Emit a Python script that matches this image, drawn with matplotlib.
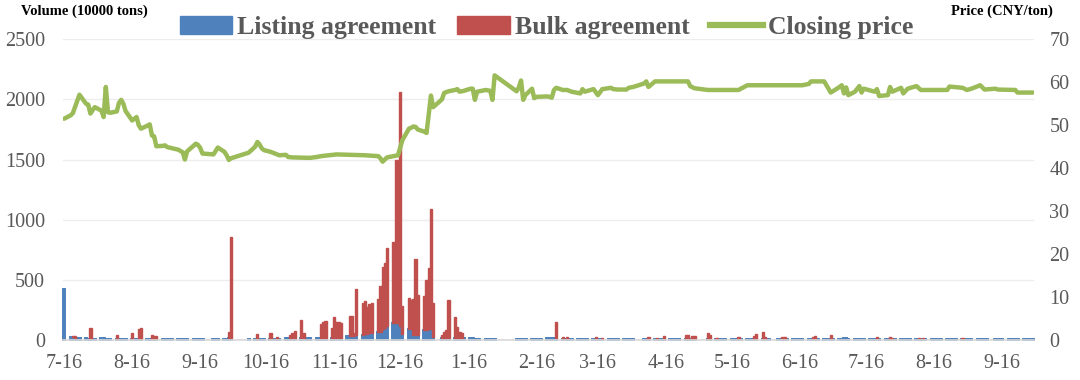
import matplotlib.pyplot as plt
import matplotlib.dates as mdates
from matplotlib.patches import Patch
from matplotlib.lines import Line2D
import numpy as np
import pandas as pd

plt.rcParams['font.family'] = ['Liberation Serif', 'DejaVu Serif']

BLUE = '#4F81BD'
RED = '#C0504D'
GREEN = '#9BBB59'
GREY = '#595959'

# market closed on these weekdays
holidays = ['2021-09-20', '2021-09-21', '2021-10-01', '2021-10-04', '2021-10-05',
            '2021-10-06', '2021-10-07', '2022-01-03', '2022-01-31', '2022-02-01',
            '2022-02-02', '2022-02-03', '2022-02-04', '2022-04-04', '2022-04-05',
            '2022-05-02', '2022-05-03', '2022-05-04', '2022-06-03', '2022-09-12']

# daily volume (10000 tons), one row per month of trading days
listing_by_month = [
    [420, 22, 22, 20, 18, 16, 14, 12, 12, 10, 10],
    [14, 14, 12, 12, 12, 10, 10, 12, 12, 10, 12, 10, 10, 10, 10, 12, 12, 10, 10, 10, 10, 10],
    [12, 12, 12, 12, 12, 12, 12, 12, 12, 12, 12, 12, 12, 12, 12, 12, 12, 12, 14, 15],
    [12, 12, 12, 12, 12, 12, 12, 12, 12, 12, 12, 15, 15, 15, 15, 15],
    [15, 15, 15, 15, 15, 15, 15, 18, 18, 18, 20, 20, 20, 20, 20, 30, 30, 30, 35, 40, 45, 50],
    [50, 56, 56, 65, 70, 95, 97, 120, 145, 145, 145, 120, 50, 90, 90, 42, 42, 42, 83, 83, 90, 90, 28],
    [15, 20, 20, 20, 20, 20, 15, 15, 20, 15, 15, 12, 12, 12, 12, 12, 12, 12, 12],
    [12, 12, 12, 12, 12, 12, 12, 12, 12, 12, 14, 14, 16, 16, 15, 12],
    [12, 12, 12, 12, 12, 12, 12, 12, 12, 12, 12, 12, 12, 12, 12, 12, 12, 12, 12, 12, 12, 12, 12],
    [12, 12, 12, 12, 12, 12, 12, 12, 12, 12, 12, 12, 12, 12, 12, 12, 12, 12, 12],
    [12, 12, 12, 12, 12, 12, 12, 12, 12, 12, 12, 12, 12, 12, 12, 12, 12, 12, 12],
    [12, 12, 12, 12, 12, 12, 12, 12, 12, 12, 12, 12, 12, 12, 12, 12, 12, 12, 12, 12, 12],
    [12, 12, 12, 16, 16, 12, 12, 12, 12, 12, 12, 12, 12, 12, 12, 12, 12, 12, 12, 12, 12],
    [12, 12, 12, 12, 12, 12, 12, 12, 12, 12, 12, 12, 12, 12, 12, 12, 12, 12, 12, 12, 12, 12, 12],
    [12, 12, 12, 12, 12, 12, 12, 12, 12, 12, 12, 12, 12, 12, 12, 12, 12, 12, 12, 12, 12],
]
bulk_by_month = [
    [0, 0, 8, 12, 0, 0, 0, 0, 85, 0, 0],
    [0, 0, 0, 0, 0, 32, 0, 0, 0, 0, 50, 0, 0, 85, 87, 0, 0, 30, 25, 25, 0, 0],
    [0, 0, 0, 0, 0, 0, 0, 0, 0, 0, 0, 0, 0, 0, 0, 0, 0, 0, 55, 845],
    [0, 0, 38, 0, 0, 0, 48, 0, 0, 16, 0, 0, 0, 27, 40, 60],
    [150, 40, 0, 0, 0, 0, 0, 112, 132, 140, 77, 169, 130, 127, 124, 0, 170, 170, 25, 385, 266, 270],
    [222, 244, 250, 275, 380, 515, 543, 645, 670, 1355, 1355, 1940, 230, 257, 243, 298, 630, 333,
     284, 417, 510, 995, 278],
    [27, 50, 63, 313, 170, 91, 55, 46, 0, 0, 0, 0, 0, 0, 0, 0, 0, 0, 0],
    [0, 0, 0, 0, 0, 0, 0, 0, 0, 0, 0, 0, 0, 0, 132, 10],
    [0, 14, 0, 0, 0, 0, 0, 0, 0, 0, 10, 0, 0, 8, 0, 0, 0, 0, 0, 0, 0, 0, 0],
    [0, 0, 0, 10, 0, 6, 0, 0, 24, 0, 0, 0, 0, 0, 30, 30, 0, 24, 24],
    [50, 28, 5, 0, 0, 0, 0, 0, 0, 0, 15, 0, 0, 0, 0, 20, 37, 51, 10],
    [0, 0, 0, 0, 10, 10, 0, 0, 0, 0, 0, 0, 0, 0, 15, 21, 0, 0, 0, 0, 29],
    [0, 0, 0, 0, 0, 0, 0, 0, 0, 0, 0, 0, 0, 0, 10, 0, 0, 0, 15, 8, 0],
    [0, 0, 0, 0, 0, 0, 5, 0, 5, 0, 0, 0, 0, 0, 0, 0, 0, 0, 0, 0, 7, 0, 0],
    [0, 0, 0, 0, 0, 0, 0, 0, 0, 0, 0, 0, 0, 0, 0, 0, 0, 0, 0, 0, 0],
]

# closing price (CNY/ton)
price_dates = [
    '2021-07-16', '2021-07-19', '2021-07-20', '2021-07-23', '2021-07-26', '2021-07-27',
    '2021-07-28', '2021-07-29', '2021-07-30', '2021-08-02', '2021-08-03', '2021-08-04',
    '2021-08-05', '2021-08-06', '2021-08-09', '2021-08-10', '2021-08-11', '2021-08-12',
    '2021-08-13', '2021-08-16', '2021-08-17', '2021-08-18', '2021-08-19', '2021-08-20',
    '2021-08-23', '2021-08-24', '2021-08-25', '2021-08-26', '2021-08-27', '2021-08-30',
    '2021-08-31', '2021-09-01', '2021-09-06', '2021-09-08', '2021-09-09', '2021-09-10',
    '2021-09-14', '2021-09-15', '2021-09-16', '2021-09-17', '2021-09-22', '2021-09-23',
    '2021-09-24', '2021-09-27', '2021-09-28', '2021-09-29', '2021-09-30', '2021-10-08',
    '2021-10-11', '2021-10-12', '2021-10-13', '2021-10-14', '2021-10-15', '2021-10-18',
    '2021-10-22', '2021-10-25', '2021-10-26', '2021-10-28', '2021-11-05', '2021-11-08',
    '2021-11-10', '2021-11-17', '2021-11-30', '2021-12-06', '2021-12-07', '2021-12-08',
    '2021-12-09', '2021-12-10', '2021-12-15', '2021-12-16', '2021-12-17', '2021-12-20',
    '2021-12-21', '2021-12-22', '2021-12-23', '2021-12-24', '2021-12-27', '2021-12-28',
    '2021-12-29', '2021-12-30', '2021-12-31', '2022-01-04', '2022-01-05', '2022-01-07',
    '2022-01-10', '2022-01-11', '2022-01-12', '2022-01-14', '2022-01-17', '2022-01-18',
    '2022-01-19', '2022-01-20', '2022-01-24', '2022-01-26', '2022-01-27', '2022-01-28',
    '2022-02-07', '2022-02-08', '2022-02-09', '2022-02-10', '2022-02-11', '2022-02-14',
    '2022-02-15', '2022-02-16', '2022-02-21', '2022-02-22', '2022-02-23', '2022-02-24',
    '2022-02-25', '2022-02-28', '2022-03-02', '2022-03-04', '2022-03-08', '2022-03-09',
    '2022-03-10', '2022-03-14', '2022-03-16', '2022-03-18', '2022-03-22', '2022-03-23',
    '2022-03-25', '2022-03-29', '2022-03-30', '2022-04-01', '2022-04-06', '2022-04-07',
    '2022-04-08', '2022-04-11', '2022-04-26', '2022-04-27', '2022-04-29', '2022-05-05',
    '2022-05-19', '2022-05-23', '2022-06-17', '2022-06-20', '2022-06-21', '2022-06-27',
    '2022-06-30', '2022-07-04', '2022-07-05', '2022-07-06', '2022-07-07', '2022-07-08',
    '2022-07-11', '2022-07-13', '2022-07-14', '2022-07-15', '2022-07-20', '2022-07-21',
    '2022-07-22', '2022-07-26', '2022-07-27', '2022-07-28', '2022-08-01', '2022-08-02',
    '2022-08-04', '2022-08-08', '2022-08-10', '2022-08-22', '2022-08-23', '2022-08-29',
    '2022-08-31', '2022-09-02', '2022-09-06', '2022-09-08', '2022-09-13', '2022-09-14',
    '2022-09-22', '2022-09-23', '2022-09-30']
price_values = [
    51.5, 52.3, 52.8, 57.1, 55.0, 54.8,
    52.7, 53.5, 54.2, 53.4, 51.9, 58.9,
    53.0, 52.9, 53.2, 55.2, 55.9, 55.0,
    53.3, 51.1, 51.5, 51.9, 50.0, 49.2,
    49.9, 50.2, 47.6, 47.4, 45.1, 45.2,
    45.3, 44.9, 44.3, 43.7, 42.0, 43.9,
    45.7, 45.4, 44.7, 43.4, 43.2, 44.0,
    44.8, 43.8, 43.0, 41.9, 42.3, 43.6,
    45.0, 46.1, 45.5, 44.6, 44.2, 43.8,
    43.0, 43.1, 42.6, 42.5, 42.4, 42.6,
    42.8, 43.2, 43.0, 42.8, 42.3, 41.5,
    42.0, 42.5, 43.0, 44.8, 46.5, 49.2,
    49.4, 49.7, 49.6, 49.0, 48.5, 48.2,
    52.5, 56.9, 54.2, 56.0, 57.5, 57.9,
    58.2, 58.4, 57.8, 58.0, 58.5, 58.5,
    55.9, 57.8, 58.2, 58.0, 55.9, 61.6,
    57.9, 58.8, 60.4, 55.9, 57.0, 58.5,
    56.3, 56.6, 56.7, 56.6, 56.4, 58.2,
    58.7, 58.2, 58.2, 57.8, 57.4, 58.4,
    57.8, 58.4, 57.0, 58.4, 58.7, 58.4,
    58.3, 58.3, 58.7, 58.9, 59.7, 60.2,
    58.9, 60.2, 60.2, 59.1, 58.6, 58.2,
    58.2, 59.3, 59.3, 59.6, 60.2, 60.2,
    57.6, 58.9, 59.3, 57.4, 58.8, 57.0,
    57.8, 59.1, 57.6, 58.5, 57.8, 58.4,
    56.8, 57.0, 58.9, 57.8, 58.7, 57.4,
    58.5, 59.1, 58.2, 58.2, 59.0, 58.7,
    58.2, 58.5, 59.3, 58.3, 58.5, 58.3,
    58.2, 57.6, 57.6]

tick_dates = pd.date_range('2021-07-01', '2022-09-01', freq='MS') + pd.Timedelta(days=15)
tick_labels = [f'{d.month}-{d.day}' for d in tick_dates]

# trading days
days = pd.bdate_range('2021-07-16', '2022-09-30')
days = days[~days.isin(pd.to_datetime(holidays))]
x = mdates.date2num(days.to_pydatetime())
listing = np.array(sum(listing_by_month, []), dtype=float)
bulk = np.array(sum(bulk_by_month, []), dtype=float)
assert len(x) == len(listing) == len(bulk)

fig = plt.figure(figsize=(10.8, 3.8), dpi=100)
ax = fig.add_axes([0.0583, 0.1053, 0.8991, 0.7913])

ax.bar(x, listing, width=1.0, color=BLUE, edgecolor=BLUE, linewidth=1.4,
       clip_on=False, zorder=2)
m = bulk > 0
ax.bar(x[m], bulk[m], bottom=listing[m], width=1.0, color=RED, edgecolor=RED,
       linewidth=1.0, clip_on=False, zorder=2)

ax.set_ylim(0, 2500)
ax.set_yticks(range(0, 2501, 500))
ax.grid(axis='y', color='#EDEDED', lw=1)
ax.set_axisbelow(True)
x0 = mdates.date2num(pd.Timestamp('2021-07-16').to_pydatetime())
x1 = mdates.date2num(pd.Timestamp('2022-09-30').to_pydatetime())
ax.set_xlim(x0 - 0.5, x1 + 0.5)
ax.set_xticks(mdates.date2num(tick_dates.to_pydatetime()))
ax.set_xticklabels(tick_labels)

for s in ['top', 'right', 'left']:
    ax.spines[s].set_visible(False)
ax.spines['bottom'].set_color('#D9D9D9')
ax.spines['bottom'].set_linewidth(1.2)
ax.spines['bottom'].set_zorder(3)
ax.tick_params(axis='both', length=0, labelsize=14.5, labelcolor=GREY)
ax.tick_params(axis='y', pad=13)
ax.tick_params(axis='x', pad=10)

ax2 = ax.twinx()
ax2.plot(mdates.date2num(pd.to_datetime(price_dates).to_pydatetime()), price_values,
         color=GREEN, lw=3.2, solid_joinstyle='round', solid_capstyle='round')
ax2.set_ylim(0, 70)
ax2.set_yticks(range(0, 71, 10))
for s in ax2.spines.values():
    s.set_visible(False)
ax2.tick_params(axis='y', length=0, labelsize=14.5, labelcolor=GREY, pad=11)

handles = [Patch(color=BLUE), Patch(color=RED), Line2D([], [], color=GREEN, lw=4.5)]
labels = ['Listing agreement', 'Bulk agreement', 'Closing price']
fig.legend(handles, labels, loc='center', bbox_to_anchor=(0.506, 0.928), ncol=3,
           frameon=False, prop=dict(weight='bold', size=18.5), labelcolor=GREY,
           handlelength=2.05, handleheight=0.66, handletextpad=0.2, columnspacing=0.8)

fig.text(21 / 1080, 1 - 11 / 380, 'Volume (10000 tons)', fontsize=10.5,
         weight='bold', ha='left', va='center')
fig.text(1002 / 1080, 1 - 11 / 380, 'Price (CNY/ton)', fontsize=10.5,
         weight='bold', ha='center', va='center')

fig.savefig('out.png', dpi=100)
